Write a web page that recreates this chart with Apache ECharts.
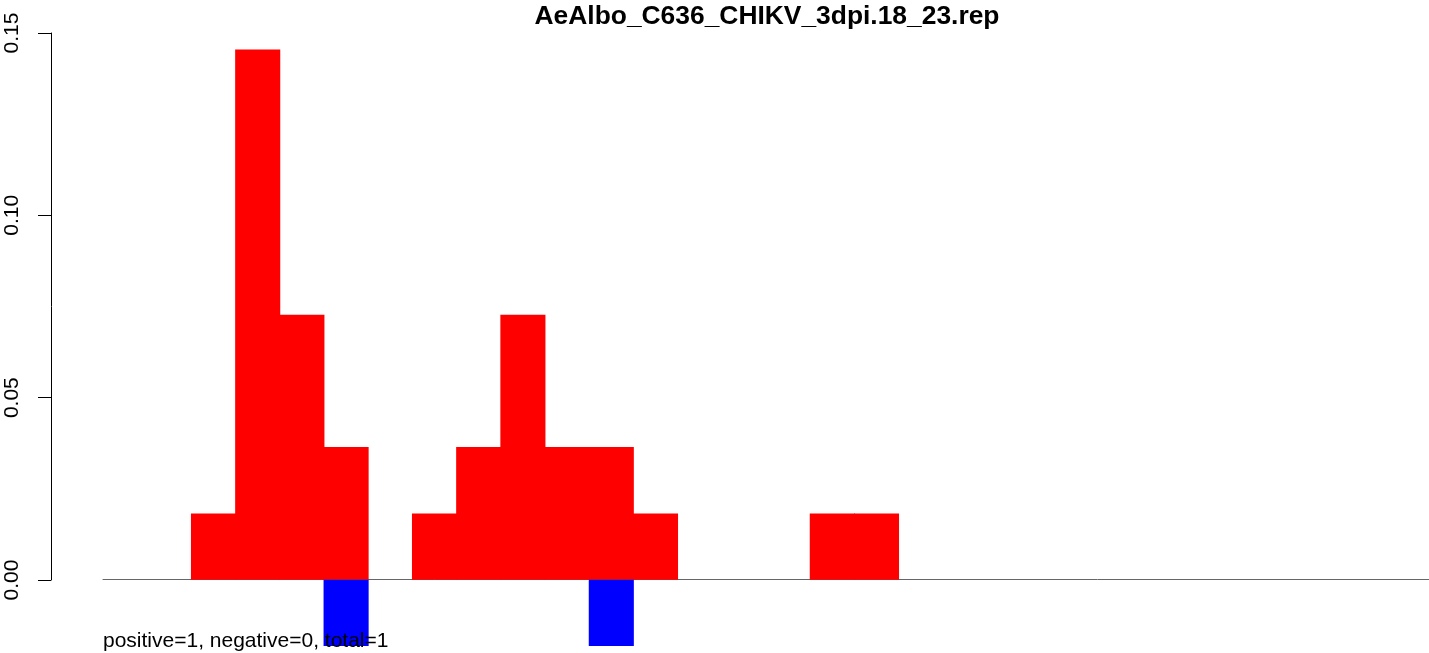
<!DOCTYPE html>
<html>
<head>
<meta charset="utf-8">
<script src="https://cdn.jsdelivr.net/npm/echarts@6/dist/echarts.min.js"></script>
<style>
  html, body { margin: 0; padding: 0; background: #fff; }
  #chart { width: 1429px; height: 653px; }
</style>
</head>
<body>
<div id="chart"></div>
<script>
// positions along the read (30 slots), values are fractions of reads
var positions = [];
for (var i = 1; i <= 30; i++) positions.push(String(i));

var positiveVals = [0, 0, 0.0182, 0.1455, 0.0727, 0.0364, 0, 0.0182, 0.0364, 0.0727,
                    0.0364, 0.0364, 0.0182, 0, 0, 0, 0.0182, 0.0182, 0, 0,
                    0, 0, 0, 0, 0, 0, 0, 0, 0, 0];
var negativeVals = [0, 0, 0, 0, 0, -0.0182, 0, 0, 0, 0,
                    0, -0.0182, 0, 0, 0, 0, 0, 0, 0, 0,
                    0, 0, 0, 0, 0, 0, 0, 0, 0, 0];
var yTicks = [0, 0.05, 0.10, 0.15];

var titleText = 'AeAlbo_C636_CHIKV_3dpi.18_23.rep';
var noteText = 'positive=1, negative=0, total=1';

// empty slots draw nothing
function noZero(arr) {
	return arr.map(function (v) { return v === 0 ? '-' : v; });
}

var myChart = echarts.init(document.getElementById('chart'));

var option = {
	animation: false,
	textStyle: { fontFamily: 'Liberation Sans, Arial, sans-serif' },
	title: [
		{
			text: titleText,
			left: 767, top: 4, padding: 0,
			textAlign: 'center',
			textStyle: { fontSize: 26.4, fontWeight: 'bold', color: '#000' }
		},
		{
			text: noteText,
			left: 103, top: 631, padding: 0,
			z: 10,
			textStyle: { fontSize: 21, fontWeight: 'normal', color: '#000' }
		}
	],
	grid: [
		{ left: 103, right: 0, top: 33, bottom: 7 },
		{ left: 51, width: 10, top: 33, height: 547 }
	],
	xAxis: [
		{
			type: 'category', gridIndex: 0, data: positions,
			boundaryGap: true,
			axisLine: { show: true, onZero: true, lineStyle: { color: '#666', width: 1 } },
			axisTick: { show: false },
			axisLabel: { show: false },
			splitLine: { show: false }
		},
		{ type: 'value', gridIndex: 1, show: false }
	],
	yAxis: [
		{
			type: 'value', gridIndex: 0, min: -1 / 55, max: 0.15,
			show: false, splitLine: { show: false }
		},
		{
			type: 'value', gridIndex: 1, min: 0, max: 0.15, interval: 0.05,
			axisLine: { show: true, lineStyle: { color: '#000', width: 1 } },
			axisTick: { show: true, length: 13, lineStyle: { color: '#000' } },
			axisLabel: {
				rotate: 90, margin: 28, fontSize: 21, color: '#000',
				formatter: function (v) { return v.toFixed(2); }
			},
			splitLine: { show: false }
		}
	],
	series: [
		{
			type: 'bar', name: 'positive', xAxisIndex: 0, yAxisIndex: 0,
			data: noZero(positiveVals), barWidth: '102%', barGap: '-100%',
			itemStyle: { color: '#ff0000' }
		},
		{
			type: 'bar', name: 'negative', xAxisIndex: 0, yAxisIndex: 0,
			data: noZero(negativeVals), barWidth: '102%', barGap: '-100%',
			itemStyle: { color: '#0000ff' }
		}
	]
};

myChart.setOption(option);
</script>
</body>
</html>
